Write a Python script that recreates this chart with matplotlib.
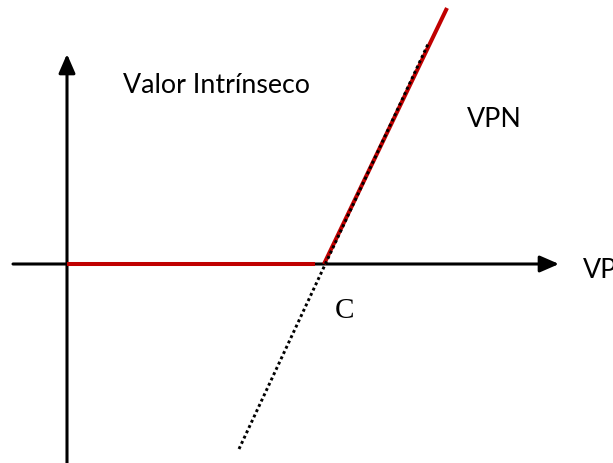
import matplotlib
matplotlib.use("Agg")
import matplotlib.pyplot as plt

# Diagram coordinates (origin at the axis intersection, units ~ pixels)
x_axis = [-54, 492]          # horizontal axis extent (arrow at right end)
y_axis = [-200, 210]         # vertical axis extent (arrow at top end)
red_flat_x = [0, 248]
red_flat_y = [0, 0]
red_slope_x = [257, 380]
red_slope_y = [0, 256]
dot_x = [172, 362]
dot_y = [-185, 222]

labels = {
    "Valor Intrínseco": (56, 172),
    "VPN": (400, 138),
    "VP": (516, -13),
}
c_label = ("C", (268, -53))

fig = plt.figure(figsize=(6.13, 4.64), dpi=100)
ax = fig.add_axes([0, 0, 1, 1])
ax.set_xlim(-67, 546)
ax.set_ylim(-199, 265)
ax.axis("off")

arrow_kw = dict(arrowstyle="-|>,head_length=1.15,head_width=0.5",
                mutation_scale=10, color="black", lw=2.2,
                shrinkA=0, shrinkB=0)
ax.annotate("", xy=(x_axis[1], 0), xytext=(x_axis[0], 0), arrowprops=arrow_kw)
ax.annotate("", xy=(0, y_axis[1]), xytext=(0, y_axis[0]), arrowprops=arrow_kw)

red = "#C00000"
ax.plot(red_flat_x, red_flat_y, color=red, lw=2.9, solid_capstyle="butt", zorder=3)
ax.plot(red_slope_x, red_slope_y, color=red, lw=2.9, solid_capstyle="butt", zorder=3)
ax.plot(dot_x, dot_y, color="black", lw=2.1, linestyle=(0, (1, 1)), zorder=4)

# fit sans font size to the target width of the main label
fam = ["Lato", "DejaVu Sans"]
fig.canvas.draw()
r = fig.canvas.get_renderer()
t = ax.text(0, 0, "Valor Intrínseco", fontsize=20, family=fam)
w = t.get_window_extent(r).width
t.remove()
fs = 20 * 187.0 / w

for s, (x, y) in labels.items():
    ax.text(x, y, s, fontsize=fs, family=fam, color="black",
            ha="left", va="baseline")

ax.text(c_label[1][0], c_label[1][1], c_label[0], fontsize=21,
        family=["Liberation Serif", "DejaVu Serif"], ha="left", va="baseline")

fig.savefig("out.png", dpi=100)
